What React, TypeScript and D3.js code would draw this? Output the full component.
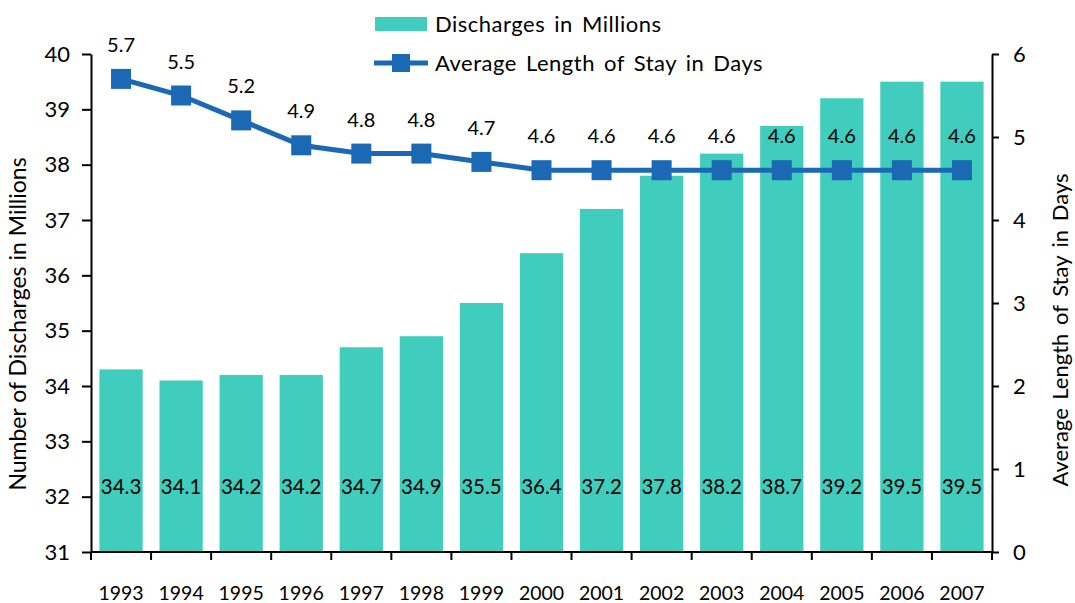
import * as d3 from 'd3'
import { useEffect, useRef } from 'react'

const years = ['1993', '1994', '1995', '1996', '1997', '1998', '1999', '2000', '2001', '2002', '2003', '2004', '2005', '2006', '2007']
const discharges = [34.3, 34.1, 34.2, 34.2, 34.7, 34.9, 35.5, 36.4, 37.2, 37.8, 38.2, 38.7, 39.2, 39.5, 39.5]
const stayDays = [5.7, 5.5, 5.2, 4.9, 4.8, 4.8, 4.7, 4.6, 4.6, 4.6, 4.6, 4.6, 4.6, 4.6, 4.6]
const leftTicks = [31, 32, 33, 34, 35, 36, 37, 38, 39, 40]
const rightTicks = [0, 1, 2, 3, 4, 5, 6]

const W = 1075
const H = 603
const FONT = 'Lato, "Open Sans", sans-serif'
const BAR_COLOR = '#40CDBE'
const LINE_COLOR = '#1B69B4'

export default function App() {
  const ref = useRef<SVGSVGElement>(null)

  useEffect(() => {
    const svg = d3.select(ref.current)
    svg.selectAll('*').remove()

    const left = 91
    const right = 992
    const top = 54
    const bottom = 552

    const x = d3.scaleBand<string>().domain(years).range([left, right]).paddingInner(0.28).paddingOuter(0.14)
    const yL = d3.scaleLinear().domain([31, 40]).range([bottom, top])
    const yR = d3.scaleLinear().domain([0, 6]).range([bottom, top])
    const centerX = (y: string) => (x(y) ?? 0) + x.bandwidth() / 2

    // bars
    svg.append('g')
      .selectAll('rect')
      .data(discharges)
      .join('rect')
      .attr('x', (_, i) => x(years[i]) ?? 0)
      .attr('y', (d) => yL(d))
      .attr('width', x.bandwidth())
      .attr('height', (d) => bottom - yL(d))
      .attr('fill', BAR_COLOR)

    // bar labels, inside base
    svg.append('g')
      .selectAll('text')
      .data(discharges)
      .join('text')
      .attr('x', (_, i) => centerX(years[i]))
      .attr('y', 494)
      .attr('text-anchor', 'middle')
      .attr('font-size', 20.5)
      .attr('fill', '#000')
      .text((d) => d.toFixed(1))

    // axes
    const axL = svg.append('g')
      .attr('transform', `translate(${left},0)`)
      .call(d3.axisLeft(yL).tickValues(leftTicks).tickSize(9).tickSizeOuter(0).tickPadding(12).tickFormat(d3.format('d')))
    const axR = svg.append('g')
      .attr('transform', `translate(${right},0)`)
      .call(d3.axisRight(yR).tickValues(rightTicks).tickSize(7).tickSizeOuter(0).tickPadding(14).tickFormat(d3.format('d')))
    for (const ax of [axL, axR]) {
      ax.selectAll('text').attr('font-size', 22).attr('font-family', FONT).attr('fill', '#000')
      ax.selectAll('line,path').attr('stroke', '#000').attr('stroke-width', 2)
    }

    // x axis
    const axB = svg.append('g')
    axB.append('line')
      .attr('x1', left).attr('x2', right)
      .attr('y1', bottom).attr('y2', bottom)
      .attr('stroke', '#000').attr('stroke-width', 2)
    axB.selectAll('line.tick')
      .data(d3.range(years.length + 1))
      .join('line')
      .attr('class', 'tick')
      .attr('x1', (i) => left + i * x.step())
      .attr('x2', (i) => left + i * x.step())
      .attr('y1', bottom).attr('y2', bottom + 8)
      .attr('stroke', '#000').attr('stroke-width', 2)
    axB.selectAll('text')
      .data(years)
      .join('text')
      .attr('x', (d) => centerX(d))
      .attr('y', 600)
      .attr('text-anchor', 'middle')
      .attr('font-size', 19.5)
      .text((d) => d)

    // line
    const line = d3.line<number>()
      .x((_, i) => centerX(years[i]))
      .y((d) => yR(d))
    svg.append('path')
      .datum(stayDays)
      .attr('d', line)
      .attr('fill', 'none')
      .attr('stroke', LINE_COLOR)
      .attr('stroke-width', 5)

    const ms = 20
    svg.append('g')
      .selectAll('rect')
      .data(stayDays)
      .join('rect')
      .attr('x', (_, i) => centerX(years[i]) - ms / 2)
      .attr('y', (d) => yR(d) - ms / 2)
      .attr('width', ms)
      .attr('height', ms)
      .attr('fill', LINE_COLOR)

    svg.append('g')
      .selectAll('text')
      .data(stayDays)
      .join('text')
      .attr('x', (_, i) => centerX(years[i]))
      .attr('y', (d) => yR(d) - 27)
      .attr('text-anchor', 'middle')
      .attr('font-size', 20)
      .text((d) => d.toFixed(1))

    // axis titles
    svg.append('text')
      .attr('transform', `translate(26,${(top + bottom) / 2 + 21}) rotate(-90)`)
      .attr('text-anchor', 'middle')
      .attr('font-size', 23)
      .text('Number of Discharges in Millions')
    svg.append('text')
      .attr('transform', `translate(1068,${(top + bottom) / 2 + 27}) rotate(-90)`)
      .attr('text-anchor', 'middle')
      .attr('font-size', 22)
      .attr('word-spacing', 3)
      .text('Average Length of Stay in Days')

    // legend
    const lg = svg.append('g').attr('font-size', 22).attr('letter-spacing', 0.5).attr('word-spacing', 3)
    lg.append('rect').attr('x', 375).attr('y', 17).attr('width', 52).attr('height', 14).attr('fill', BAR_COLOR)
    lg.append('text').attr('x', 435).attr('y', 32).text('Discharges in Millions')
    lg.append('line').attr('x1', 374).attr('x2', 428).attr('y1', 63).attr('y2', 63)
      .attr('stroke', LINE_COLOR).attr('stroke-width', 5)
    lg.append('rect').attr('x', 392).attr('y', 54).attr('width', 18).attr('height', 18).attr('fill', LINE_COLOR)
    lg.append('text').attr('x', 435).attr('y', 71).text('Average Length of Stay in Days')
  }, [])

  return (
    <svg
      ref={ref}
      width={W}
      height={H}
      style={{ display: 'block', position: 'absolute', left: 0, top: 0, background: '#fff' }}
      fontFamily={FONT}
    />
  )
}
